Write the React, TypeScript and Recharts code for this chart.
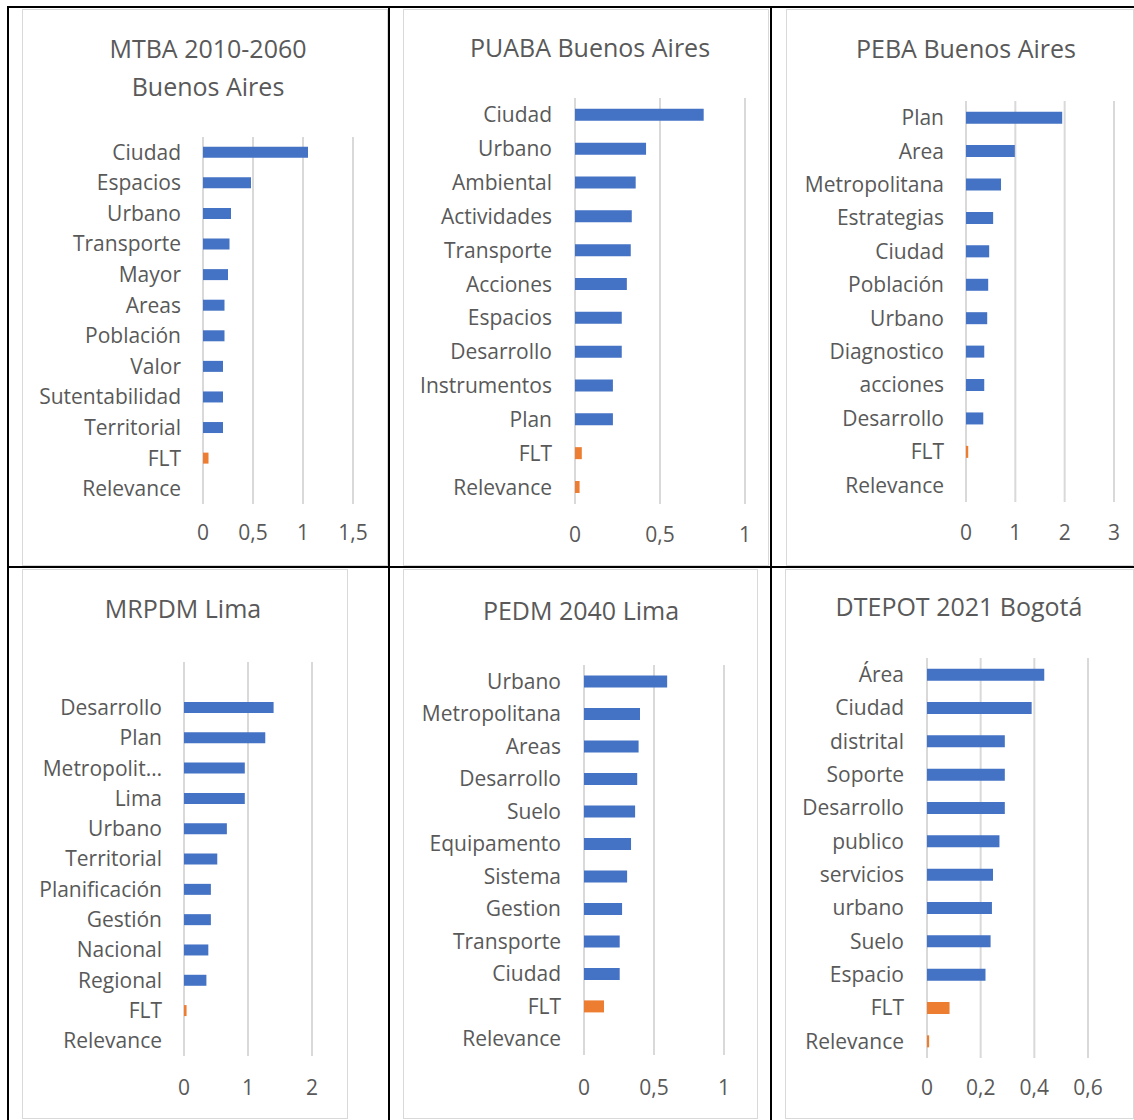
import React from 'react';
import { BarChart, Bar, XAxis, YAxis, CartesianGrid, Cell } from 'recharts';

const BLUE = '#4472C4';
const ORANGE = '#ED7D31';
const GRID = '#D9D9D9';
const TEXT = '#595959';
const FONT = "'Open Sans', 'Noto Sans', sans-serif";
const HIGHLIGHT = ['FLT', 'Relevance'];

// Panel 1 — MTBA 2010-2060 Buenos Aires
const mtbaTitle = ['MTBA 2010-2060', 'Buenos Aires'];
const mtbaCategories = ['Ciudad', 'Espacios', 'Urbano', 'Transporte', 'Mayor', 'Areas', 'Población', 'Valor', 'Sutentabilidad', 'Territorial', 'FLT', 'Relevance'];
const mtbaValues = [1.05, 0.48, 0.28, 0.265, 0.25, 0.215, 0.215, 0.2, 0.2, 0.2, 0.055, 0];
const mtbaTicks = [0, 0.5, 1, 1.5];

// Panel 2 — PUABA Buenos Aires
const puabaTitle = ['PUABA Buenos Aires'];
const puabaCategories = ['Ciudad', 'Urbano', 'Ambiental', 'Actividades', 'Transporte', 'Acciones', 'Espacios', 'Desarrollo', 'Instrumentos', 'Plan', 'FLT', 'Relevance'];
const puabaValues = [0.757, 0.418, 0.357, 0.334, 0.328, 0.305, 0.275, 0.275, 0.223, 0.223, 0.04, 0.027];
const puabaTicks = [0, 0.5, 1];

// Panel 3 — PEBA Buenos Aires
const pebaTitle = ['PEBA Buenos Aires'];
const pebaCategories = ['Plan', 'Area', 'Metropolitana', 'Estrategias', 'Ciudad', 'Población', 'Urbano', 'Diagnostico', 'acciones', 'Desarrollo', 'FLT', 'Relevance'];
const pebaValues = [1.95, 0.99, 0.71, 0.55, 0.47, 0.45, 0.43, 0.37, 0.37, 0.35, 0.045, 0];
const pebaTicks = [0, 1, 2, 3];

// Panel 4 — MRPDM Lima (first category is blank in the source)
const mrpdmTitle = ['MRPDM Lima'];
const mrpdmCategories = ['', 'Desarrollo', 'Plan', 'Metropolit…', 'Lima', 'Urbano', 'Territorial', 'Planificación', 'Gestión', 'Nacional', 'Regional', 'FLT', 'Relevance'];
const mrpdmValues = [null, 1.4, 1.27, 0.95, 0.95, 0.67, 0.52, 0.42, 0.42, 0.38, 0.35, 0.04, 0];
const mrpdmTicks = [0, 1, 2];

// Panel 5 — PEDM 2040 Lima
const pedmTitle = ['PEDM 2040 Lima'];
const pedmCategories = ['Urbano', 'Metropolitana', 'Areas', 'Desarrollo', 'Suelo', 'Equipamento', 'Sistema', 'Gestion', 'Transporte', 'Ciudad', 'FLT', 'Relevance'];
const pedmValues = [0.594, 0.4, 0.39, 0.38, 0.365, 0.336, 0.308, 0.272, 0.255, 0.255, 0.143, 0];
const pedmTicks = [0, 0.5, 1];

// Panel 6 — DTEPOT 2021 Bogotá
const dtepotTitle = ['DTEPOT 2021 Bogotá'];
const dtepotCategories = ['Área', 'Ciudad', 'distrital', 'Soporte', 'Desarrollo', 'publico', 'servicios', 'urbano', 'Suelo', 'Espacio', 'FLT', 'Relevance'];
const dtepotValues = [0.437, 0.39, 0.29, 0.29, 0.29, 0.27, 0.246, 0.242, 0.237, 0.218, 0.084, 0.008];
const dtepotTicks = [0, 0.2, 0.4, 0.6];

type Layout = {
  box: [number, number, number, number]; // x, y, w, h
  plot: [number, number, number, number]; // left, top, right, bottom (page coords)
  titleX: number;
  titleY: number[];
  xTickMargin: number;
  yTickMargin: number;
};

function Panel({ title, categories, values, ticks, layout }: {
  title: string[]; categories: string[]; values: (number | null)[]; ticks: number[]; layout: Layout;
}) {
  const [bx, by, bw, bh] = layout.box;
  const [pl, pt, pr, pb] = layout.plot;
  const data = categories.map((name, i) => ({ name, value: values[i] }));
  const xAxisHeight = 40;
  const margin = { top: pt - by, right: bx + bw - pr, bottom: by + bh - pb - xAxisHeight, left: 0 };
  const fmt = (v: number) => String(v).replace('.', ',');
  return (
    <>
      <div style={{ position: 'absolute', left: bx, top: by, width: bw, height: bh, boxSizing: 'border-box', border: `1px solid ${GRID}`, background: '#fff' }} />
      {title.map((t, i) => (
        <div key={i} style={{ position: 'absolute', left: layout.titleX - 300, width: 600, top: layout.titleY[i] - 18, height: 36, lineHeight: '36px', textAlign: 'center', fontFamily: FONT, fontSize: 25, color: TEXT, whiteSpace: 'nowrap' }}>{t}</div>
      ))}
      <div style={{ position: 'absolute', left: bx, top: by }}>
        <BarChart width={bw} height={bh} data={data} layout="vertical" margin={margin} barCategoryGap="32%">
          <CartesianGrid horizontal={false} vertical={true} stroke={GRID} strokeWidth={2} />
          <XAxis type="number" domain={[ticks[0], ticks[ticks.length - 1]]} ticks={ticks} interval={0}
            axisLine={false} tickLine={false} tickSize={0} tickMargin={layout.xTickMargin} height={xAxisHeight}
            tickFormatter={fmt} tick={{ fill: TEXT, fontSize: 21, fontFamily: FONT }} allowDataOverflow />
          <YAxis type="category" dataKey="name" width={pl - bx} interval={0}
            axisLine={false} tickLine={false} tickSize={0} tickMargin={layout.yTickMargin}
            tick={{ fill: TEXT, fontSize: 21, fontFamily: FONT }} />
          <Bar dataKey="value" isAnimationActive={false}>
            {data.map((d, i) => (
              <Cell key={i} fill={HIGHLIGHT.includes(d.name) ? ORANGE : BLUE} />
            ))}
          </Bar>
        </BarChart>
      </div>
    </>
  );
}

const L1: Layout = { box: [22, 9, 366, 557], plot: [203, 137, 353, 504], titleX: 208, titleY: [48, 86], xTickMargin: 21, yTickMargin: 22 };
const L2: Layout = { box: [403, 9, 366, 557], plot: [575, 98, 745, 504], titleX: 590, titleY: [47], xTickMargin: 23, yTickMargin: 23 };
const L3: Layout = { box: [786, 9, 348, 557], plot: [966, 101, 1114, 502], titleX: 966, titleY: [48], xTickMargin: 23, yTickMargin: 22 };
const L4: Layout = { box: [22, 569, 326, 550], plot: [184, 662, 312, 1056], titleX: 183, titleY: [608], xTickMargin: 24, yTickMargin: 22 };
const L5: Layout = { box: [403, 569, 355, 550], plot: [584, 665, 724, 1055], titleX: 581, titleY: [610], xTickMargin: 25, yTickMargin: 23 };
const L6: Layout = { box: [785, 569, 349, 550], plot: [927, 658, 1088, 1058], titleX: 959, titleY: [606], xTickMargin: 22, yTickMargin: 23 };

function Line({ x, y, w, h }: { x: number; y: number; w: number; h: number }) {
  return <div style={{ position: 'absolute', left: x, top: y, width: w, height: h, background: '#000' }} />;
}

export default function App() {
  return (
    <div style={{ position: 'absolute', left: 0, top: 0, width: 1134, height: 1120, background: '#fff', overflow: 'hidden' }}>
      <Line x={7} y={6} w={1127} h={2} />
      <Line x={7} y={566} w={1127} h={2} />
      <Line x={7} y={6} w={2} h={1114} />
      <Line x={388} y={6} w={2} h={1114} />
      <Line x={770} y={6} w={2} h={1114} />
      <Panel title={mtbaTitle} categories={mtbaCategories} values={mtbaValues} ticks={mtbaTicks} layout={L1} />
      <Panel title={puabaTitle} categories={puabaCategories} values={puabaValues} ticks={puabaTicks} layout={L2} />
      <Panel title={pebaTitle} categories={pebaCategories} values={pebaValues} ticks={pebaTicks} layout={L3} />
      <Panel title={mrpdmTitle} categories={mrpdmCategories} values={mrpdmValues} ticks={mrpdmTicks} layout={L4} />
      <Panel title={pedmTitle} categories={pedmCategories} values={pedmValues} ticks={pedmTicks} layout={L5} />
      <Panel title={dtepotTitle} categories={dtepotCategories} values={dtepotValues} ticks={dtepotTicks} layout={L6} />
    </div>
  );
}
